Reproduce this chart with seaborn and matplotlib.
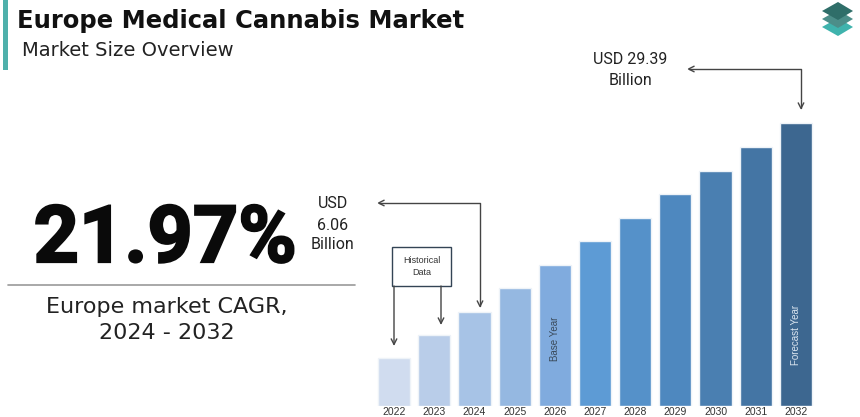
import numpy as np
import pandas as pd
import matplotlib
matplotlib.use("Agg")
import matplotlib.pyplot as plt
import matplotlib.patheffects as pe
from matplotlib.patches import Polygon, Rectangle
import seaborn as sns

# ------------------------------------------
# Data
# ------------------------------------------
years = ["2022", "2023", "2024", "2025", "2026", "2027",
         "2028", "2029", "2030", "2031", "2032"]
market_size = [4.98, 7.37, 9.76, 12.25, 14.64, 17.14,
               19.52, 22.02, 24.40, 26.90, 29.39]
bar_colors = ["#d0dcef", "#b9cde9", "#a7c3e6", "#95b8e1", "#80abde", "#5d9bd5",
              "#5591c9", "#4e88bf", "#4a7fb1", "#4475a4", "#3d6790"]

title = "Europe Medical Cannabis Market"
subtitle = "Market Size Overview"
cagr_text = "21.97%"
cagr_lines = ["Europe market CAGR,", "2024 - 2032"]
start_lines = ["USD", "6.06", "Billion"]
end_lines = ["USD 29.39", "Billion"]

df = pd.DataFrame({"Year": years, "Size": market_size})

# ------------------------------------------
# Figure
# ------------------------------------------
sns.set_theme(style="white")
plt.rcParams["font.family"] = ["Roboto", "DejaVu Sans"]

W, H = 860, 417
fig = plt.figure(figsize=(W / 100, H / 100), dpi=100)

# bar axes (pixel box: x 374-816, y 110-406)
ax = fig.add_axes([374 / W, (H - 406) / H, (816 - 374) / W, (406 - 110) / H])
sns.barplot(data=df, x="Year", y="Size", hue="Year", palette=bar_colors,
            saturation=1, legend=False, width=0.8, edgecolor="#eef3f8",
            linewidth=1, ax=ax)
ax.set_ylim(0, 30.74)
ax.set_xlim(-0.5, 10.5)
ax.set_xlabel("")
ax.set_ylabel("")
ax.set_yticks([])
ax.tick_params(axis="x", length=0, pad=1, labelsize=7.5, labelcolor="#333333")
for lab in ax.get_xticklabels():
    lab.set_family(["Liberation Sans", "DejaVu Sans"])
sns.despine(ax=ax, left=True, bottom=True)
ax.patch.set_alpha(0)

ax.text(4, market_size[4] * 0.48, "Base Year", rotation=90, ha="center",
        va="center", fontsize=7, color="#3a4a5a", family=["Liberation Sans"])
ax.text(10, market_size[10] * 0.25, "Forecast Year", rotation=90, ha="center",
        va="center", fontsize=7, color="#dce6f0", family=["Liberation Sans"])

# overlay in pixel coordinates
ov = fig.add_axes([0, 0, 1, 1], zorder=5)
ov.set_xlim(0, W)
ov.set_ylim(H, 0)
ov.axis("off")
ov.patch.set_alpha(0)

# title block
ov.add_patch(Rectangle((3, 0), 5, 70, color="#4fb0ab", lw=0))
ov.text(17, 28, title, fontsize=17.5, fontweight="bold", color="#111111",
        va="baseline", family=["DejaVu Sans"])
ov.text(22, 56, subtitle, fontsize=14, color="#222222", va="baseline",
        family=["DejaVu Sans"])

# logo
for dy, c in zip([16, 8, 0], ["#3fb3ad", "#4c8e89", "#2f6e69"]):
    ov.add_patch(Polygon([(822, 11 + dy), (838, 2 + dy), (853, 11 + dy), (838, 20 + dy)],
                         closed=True, color=c, lw=0))

# CAGR (thin stroke to get closer to the heavy reference face)
ov.text(165, 262, cagr_text, fontsize=57, fontweight="bold", color="#0a0a0a",
        ha="center", va="baseline",
        path_effects=[pe.withStroke(linewidth=1.6, foreground="#0a0a0a",
                                    joinstyle="miter")])
ov.plot([8, 355], [285, 285], color="#999999", lw=1.2)
for yb, line in zip([313, 339], cagr_lines):
    ov.text(167, yb, line, fontsize=16, color="#222222", ha="center",
            va="baseline", family=["DejaVu Sans"])

# start value annotation
for yb, line in zip([208, 230, 249], start_lines):
    ov.text(333, yb, line, fontsize=11.5, color="#222222", ha="center", va="baseline")
arrow_kw = dict(arrowstyle="<->", color="#444444", lw=1, mutation_scale=10,
                shrinkA=0, shrinkB=0)
ov.annotate("", xy=(480, 308), xytext=(377, 203),
            arrowprops=dict(connectionstyle="angle,angleA=0,angleB=90,rad=0", **arrow_kw))

# historical data box
ov.add_patch(Rectangle((392, 247), 59, 39, facecolor="white", edgecolor="#334455", lw=1))
ov.text(421.5, 266.5, "Historical\nData", fontsize=6.5, color="#333333",
        ha="center", va="center", linespacing=1.5, family=["Liberation Sans"])
for xa, ya in [(394, 346), (441, 325)]:
    ov.annotate("", xy=(xa, ya), xytext=(xa, 286),
                arrowprops=dict(arrowstyle="->", color="#444444", lw=1,
                                mutation_scale=10, shrinkA=0, shrinkB=0))

# end value annotation
for yb, line in zip([64, 85], end_lines):
    ov.text(630, yb, line, fontsize=11.5, color="#222222", ha="center", va="baseline")
ov.annotate("", xy=(801, 110), xytext=(687, 69),
            arrowprops=dict(connectionstyle="angle,angleA=0,angleB=90,rad=0", **arrow_kw))

fig.savefig("out.png", dpi=100, facecolor="white")
